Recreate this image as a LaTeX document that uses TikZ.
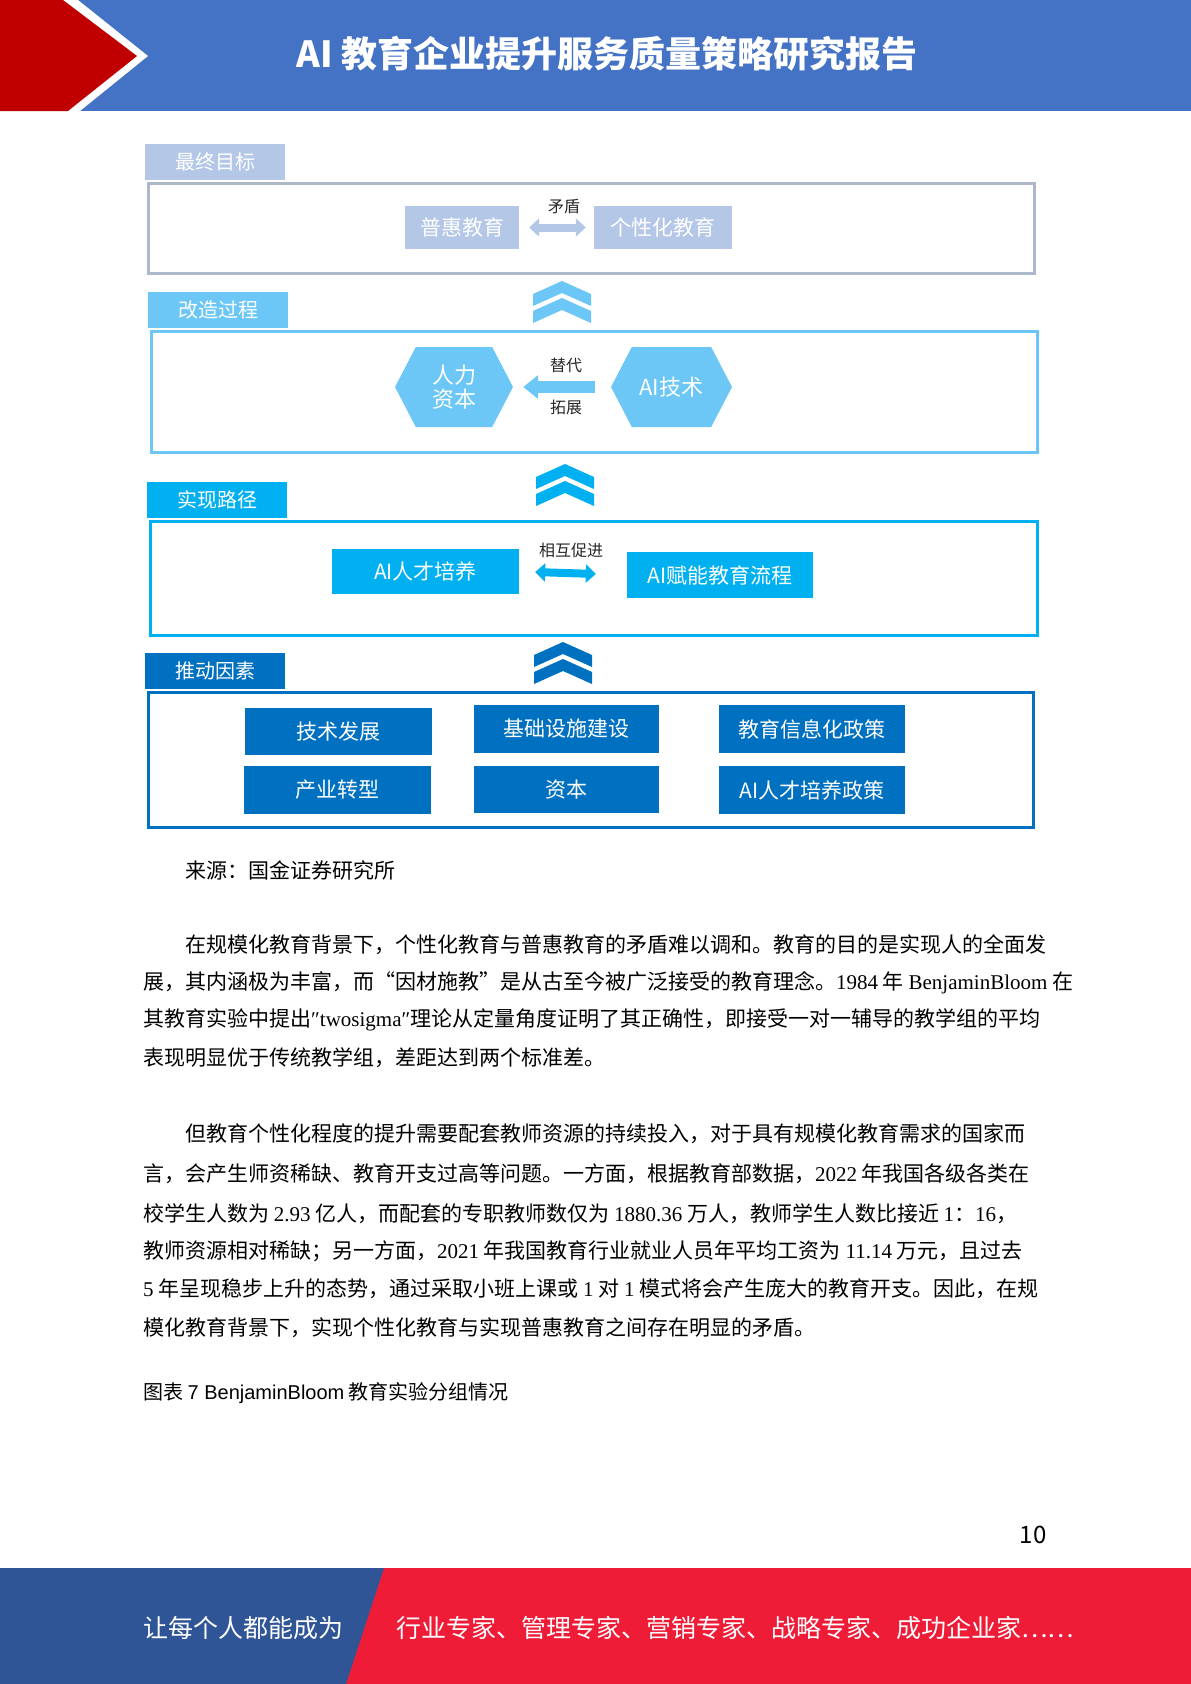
\documentclass[tikz,border=0pt]{standalone}
\usepackage{fontspec}
\setmainfont{Noto Sans CJK SC}
\newfontfamily\latinf{Liberation Serif}
\newfontfamily\arialf{Liberation Sans}
\usetikzlibrary{arrows.meta,shapes.symbols,positioning}

\definecolor{hdrblue}{HTML}{4472C4}
\definecolor{hdrred}{HTML}{C00000}
\definecolor{ftblue}{HTML}{2F5597}
\definecolor{ftred}{HTML}{EE1C37}
\definecolor{secA}{HTML}{B4C7E7}
\definecolor{secAline}{HTML}{ADB9CA}
\definecolor{secB}{HTML}{6CC7F6}
\definecolor{secC}{HTML}{00B0F0}
\definecolor{secD}{HTML}{0070C0}

\newcommand{\fs}[1]{\fontsize{#1}{#1}\selectfont}
\newcommand{\lt}[1]{{\latinf #1}}
% double chevron pointing up, top at (#1,#2)
\newcommand{\upchev}[3]{%
  \fill[#3] (#1,#2) -- ++(29,13) -- ++(0,12) -- ++(-29,-13) -- ++(-29,13) -- ++(0,-12) -- cycle;
  \fill[#3] (#1,#2+17) -- ++(29,13) -- ++(0,12) -- ++(-29,-13) -- ++(-29,13) -- ++(0,-12) -- cycle;}

\tikzset{
  sectab/.style={fill=#1, text=white, minimum width=140pt, minimum height=36pt,
    inner sep=0pt, anchor=south west, font=\fs{20}},
  secbox/.style={draw=#1, line width=3pt, inner sep=0pt},
  itembox/.style={fill=#1, text=white, inner sep=0pt, font=\fs{21}},
  hexbox/.style={signal, signal to=west and east, signal from=nowhere,
    signal pointer angle=125, fill=secB, text=white, inner sep=0pt,
    minimum width=118pt, minimum height=80pt, align=center, font=\fs{22}},
  linklabel/.style={text=black!85, inner sep=0pt, font=\fs{16}},
  dblarrow/.style={draw=#1, line width=8pt,
    {Triangle[width=18pt,length=10pt]}-{Triangle[width=18pt,length=10pt]}},
  blockarrow/.style={draw=#1, line width=12pt, -{Triangle[width=23pt,length=15pt]}},
  bodyline/.style={anchor=west, inner sep=0pt, font=\fs{21}},
}

\begin{document}
\begin{tikzpicture}[x=1pt, y=-1pt]
  \useasboundingbox (0,0) rectangle (1191,1684);

  % Header
  \fill[hdrblue] (0,0) rectangle (1191,111);
  \fill[white] (0,0) -- (78,0) -- (148,56) -- (80,111) -- (0,111) -- cycle;
  \fill[hdrred] (0,0) -- (63,0) -- (137,56) -- (68,111) -- (0,111) -- cycle;
  \node[text=white, font=\fs{36}\bfseries] (title) at (607,54) {AI 教育企业提升服务质量策略研究报告};

  % Final goal
  \node[secbox=secAline, minimum width=886pt, minimum height=90pt] (goal) at (591,228) {};
  \node[sectab=secA] (goaltab) at ([xshift=-1.5pt,yshift=1.5pt]goal.north west) {最终目标};
  \node[itembox=secA, minimum width=114pt, minimum height=43pt] (puhui) at (462,227.5) {普惠教育};
  \node[itembox=secA, minimum width=138pt, minimum height=43pt] (gexing) at (663,227.5) {个性化教育};
  \draw[dblarrow=secA, shorten <=10pt, shorten >=8pt] (puhui.east) -- (gexing.west);
  \node[linklabel] (maodun) at (564,207) {矛盾};

  % Transformation
  \upchev{562}{281}{secB}
  \node[secbox=secB, minimum width=886pt, minimum height=121pt] (trans) at (594,391.5) {};
  \node[sectab=secB] (transtab) at ([xshift=-1.5pt,yshift=1.5pt]trans.north west) {改造过程};
  \node[hexbox] (human) at (454,387) {人力\\[2pt]资本};
  \node[hexbox, minimum width=121pt] (aitech) at (671.5,387) {AI技术};
  \draw[blockarrow=secB, shorten <=16pt, shorten >=10pt] (aitech.west) -- (human.east);
  \node[linklabel] (tidai) at (566,365) {替代};
  \node[linklabel] (tuozhan) at (566,407) {拓展};

  % Path
  \upchev{565}{464}{secC}
  \node[secbox=secC, minimum width=887pt, minimum height=114pt] (path) at (593.5,578) {};
  \node[sectab=secC] (pathtab) at ([xshift=-1.5pt,yshift=1.5pt]path.north west) {实现路径};
  \node[itembox=secC, minimum width=187pt, minimum height=45pt] (talent) at (425.5,571.5) {AI人才培养};
  \node[itembox=secC, minimum width=186pt, minimum height=46pt] (empower) at (720,575) {AI赋能教育流程};
  \draw[dblarrow=secC, shorten <=16pt, shorten >=31pt] (talent.east) -- (empower.west);
  \node[linklabel] (mutual) at (571,550) {相互促进};

  % Drivers
  \upchev{563}{642}{secD}
  \node[secbox=secD, minimum width=885pt, minimum height=135pt] (drive) at (590.5,759.5) {};
  \node[sectab=secD] (drivetab) at ([xshift=-1.5pt,yshift=1.5pt]drive.north west) {推动因素};
  \node[itembox=secD, minimum width=187pt, minimum height=47pt] (tech) at (338.5,731.5) {技术发展};
  \node[itembox=secD, minimum width=185pt, minimum height=48pt] (infra) at (566.5,729) {基础设施建设};
  \node[itembox=secD, minimum width=186pt, minimum height=48pt] (policy) at (812,729) {教育信息化政策};
  \node[itembox=secD, minimum width=187pt, minimum height=48pt] (industry) at (337.5,790) {产业转型};
  \node[itembox=secD, minimum width=185pt, minimum height=47pt] (capital) at (566.5,789.5) {资本};
  \node[itembox=secD, minimum width=186pt, minimum height=48pt] (tpolicy) at (812,790) {AI人才培养政策};

  % Body text
  \node[bodyline] (source) at (185,870) {来源：国金证券研究所};
  \node[bodyline] (p1a) at (185,945) {在规模化教育背景下，个性化教育与普惠教育的矛盾难以调和。教育的目的是实现人的全面发};
  \node[bodyline] (p1b) at (143,983) {展，其内涵极为丰富，而“因材施教”是从古至今被广泛接受的教育理念。\lt{1984} 年 \lt{BenjaminBloom} 在};
  \node[bodyline] (p1c) at (143,1020) {其教育实验中提出\lt{\char"2033 twosigma\char"2033}理论从定量角度证明了其正确性，即接受一对一辅导的教学组的平均};
  \node[bodyline] (p1d) at (143,1058) {表现明显优于传统教学组，差距达到两个标准差。};
  \node[bodyline] (p2a) at (185,1134) {但教育个性化程度的提升需要配套教师资源的持续投入，对于具有规模化教育需求的国家而};
  \node[bodyline] (p2b) at (143,1174) {言，会产生师资稀缺、教育开支过高等问题。一方面，根据教育部数据，\lt{2022} 年我国各级各类在};
  \node[bodyline] (p2c) at (143,1214) {校学生人数为 \lt{2.93} 亿人，而配套的专职教师数仅为 \lt{1880.36} 万人，教师学生人数比接近 \lt{1}：\lt{16}，};
  \node[bodyline] (p2d) at (143,1251) {教师资源相对稀缺；另一方面，\lt{2021} 年我国教育行业就业人员年平均工资为 \lt{11.14} 万元，且过去};
  \node[bodyline] (p2e) at (143,1289) {\lt{5} 年呈现稳步上升的态势，通过采取小班上课或 \lt{1} 对 \lt{1} 模式将会产生庞大的教育开支。因此，在规};
  \node[bodyline] (p2f) at (143,1328) {模化教育背景下，实现个性化教育与实现普惠教育之间存在明显的矛盾。};
  \node[bodyline, font=\fs{20}] (caption) at (143,1393) {图表 {\arialf 7 BenjaminBloom} 教育实验分组情况};
  \node[font=\fs{24}] (pageno) at (1033,1535) {10};

  % Footer
  \fill[ftred] (0,1568) rectangle (1191,1684);
  \fill[ftblue] (0,1568) -- (384,1568) -- (346,1684) -- (0,1684) -- cycle;
  \node[bodyline, text=white, font=\fs{25}] (slogan) at (143,1628) {让每个人都能成为};
  \node[bodyline, text=white, font=\fs{25}] (experts) at (396,1628) {行业专家、管理专家、营销专家、战略专家、成功企业家……};
\end{tikzpicture}
\end{document}
